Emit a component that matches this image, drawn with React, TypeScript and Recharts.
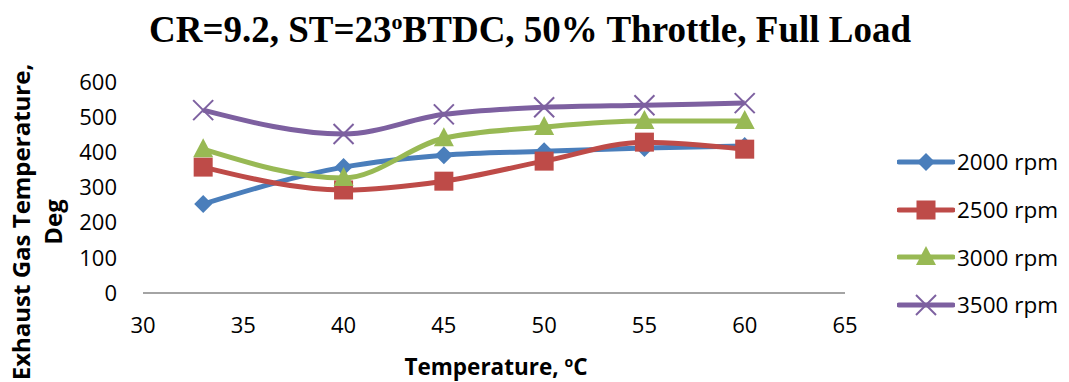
import React from 'react';
import { LineChart, Line, XAxis, YAxis, Label } from 'recharts';

const temps = [33, 40, 45, 50, 55, 60];
const rpm2000 = [253, 358, 392, 403, 412, 418];
const rpm2500 = [358, 293, 318, 375, 429, 409];
const rpm3000 = [409, 327, 440, 472, 489, 489];
const rpm3500 = [520, 452, 508, 528, 534, 540];
const xTicks = [30, 35, 40, 45, 50, 55, 60, 65];
const yTicks = [0, 100, 200, 300, 400, 500, 600];

const data = temps.map((t, i) => ({
  t,
  s2000: rpm2000[i],
  s2500: rpm2500[i],
  s3000: rpm3000[i],
  s3500: rpm3500[i],
}));

const FONT = '"Open Sans", Lato, sans-serif';

type Shape = 'diamond' | 'square' | 'triangle' | 'cross';

function marker(shape: Shape, cx: number, cy: number, color: string, key?: string) {
  if (shape === 'diamond') {
    return <polygon key={key} points={`${cx},${cy - 9} ${cx + 9},${cy} ${cx},${cy + 9} ${cx - 9},${cy}`} fill={color} />;
  }
  if (shape === 'square') {
    return <rect key={key} x={cx - 9.5} y={cy - 9.5} width={19} height={19} fill={color} />;
  }
  if (shape === 'triangle') {
    return <polygon key={key} points={`${cx},${cy - 11} ${cx + 10},${cy + 8} ${cx - 10},${cy + 8}`} fill={color} />;
  }
  return (
    <g key={key} stroke={color} strokeWidth={2}>
      <line x1={cx - 10} y1={cy - 10} x2={cx + 10} y2={cy + 10} />
      <line x1={cx - 10} y1={cy + 10} x2={cx + 10} y2={cy - 10} />
    </g>
  );
}

const series = [
  { key: 's2000', name: '2000 rpm', color: '#4A7EBB', shape: 'diamond' as Shape },
  { key: 's2500', name: '2500 rpm', color: '#BE4B48', shape: 'square' as Shape },
  { key: 's3000', name: '3000 rpm', color: '#98B954', shape: 'triangle' as Shape },
  { key: 's3500', name: '3500 rpm', color: '#7D60A0', shape: 'cross' as Shape },
];

function LegendBox() {
  return (
    <div style={{ position: 'absolute', left: 897, top: 138, fontFamily: FONT, fontSize: 22.5 }}>
      {series.map((s) => (
        <div key={s.key} style={{ display: 'flex', alignItems: 'center', height: 47.7 }}>
          <svg width={58} height={24}>
            <line x1={2} y1={12} x2={56} y2={12} stroke={s.color} strokeWidth={5} strokeLinecap="round" />
            {marker(s.shape, 29, 12, s.color)}
          </svg>
          <span style={{ marginLeft: 2, color: '#000' }}>{s.name}</span>
        </div>
      ))}
    </div>
  );
}

export default function App() {
  return (
    <div style={{ position: 'absolute', left: 0, top: 0, width: 1069, height: 382, background: '#fff' }}>
      <div
        style={{
          position: 'absolute',
          left: 0,
          top: 8,
          width: 1060,
          textAlign: 'center',
          fontFamily: '"Liberation Serif", "Times New Roman", serif',
          fontWeight: 'bold',
          fontSize: 37,
        }}
      >
        CR=9.2, ST=23<sup style={{ fontSize: 22 }}>o</sup>BTDC, 50% Throttle, Full Load
      </div>
      <LineChart width={1069} height={382} data={data} margin={{ top: 82, right: 224, bottom: 0, left: 0 }}>
        <XAxis
          dataKey="t"
          type="number"
          domain={[30, 65]}
          ticks={xTicks}
          axisLine={{ stroke: '#868686', strokeWidth: 1.5 }}
          tickLine={false}
          tick={{ fill: '#000', fontSize: 22, fontFamily: FONT }}
          tickMargin={18}
          height={89}
        >
          <Label
            content={() => (
              <text x={496} y={375} textAnchor="middle" fontFamily={FONT} fontWeight="bold" fontSize={22.5} fill="#000">
                Temperature, <tspan dy={-8} fontSize={14}>o</tspan>
                <tspan dy={8}>C</tspan>
              </text>
            )}
          />
        </XAxis>
        <YAxis
          type="number"
          domain={[0, 600]}
          ticks={yTicks}
          axisLine={false}
          tickLine={false}
          tick={{ fill: '#000', fontSize: 22, fontFamily: FONT }}
          tickMargin={20}
          width={143}
        >
          <Label
            content={() => (
              <text
                transform="rotate(-90)"
                textAnchor="middle"
                fontFamily={FONT}
                fontWeight="bold"
                fontSize={24}
                fill="#000"
              >
                <tspan x={-222} y={30}>Exhaust Gas Temperature,</tspan>
                <tspan x={-222} y={62}>Deg</tspan>
              </text>
            )}
          />
        </YAxis>
        {series.map((s) => (
          <Line
            key={s.key}
            type="monotone"
            dataKey={s.key}
            name={s.name}
            stroke={s.color}
            strokeWidth={5}
            isAnimationActive={false}
            dot={(p: any) => marker(s.shape, p.cx, p.cy, s.color, `${s.key}-${p.index}`)}
            activeDot={false}
          />
        ))}
      </LineChart>
      <LegendBox />
    </div>
  );
}
